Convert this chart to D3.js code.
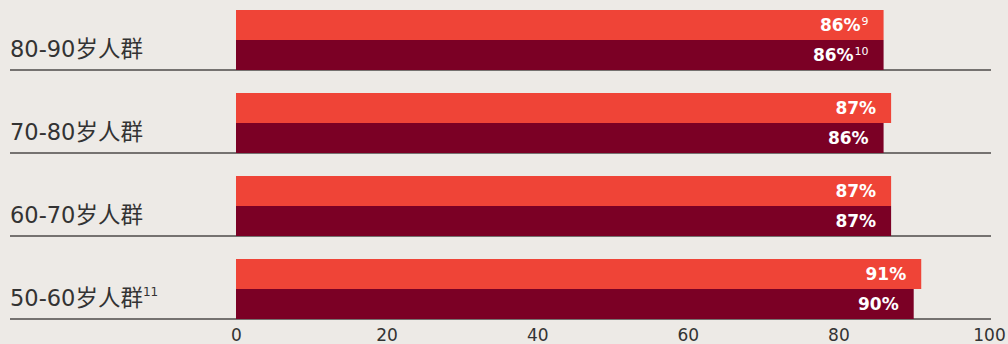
<!DOCTYPE html>
<html>
<head>
<meta charset="utf-8">
<script src="https://cdn.jsdelivr.net/npm/d3@7"></script>
<style>
  html, body { margin: 0; padding: 0; background: #edeae6; }
  svg { display: block; font-family: "DejaVu Sans", "Noto Sans CJK SC", sans-serif; }
</style>
</head>
<body>
<svg></svg>
<script>
// groups top to bottom
const categories = ['80-90岁人群', '70-80岁人群', '60-70岁人群', '50-60岁人群'];
const catNotes = ['', '', '', '11'];
const seriesNames = ['a', 'b'];
const topValues = [86, 87, 87, 91];
const topNotes = ['9', '', '', ''];
const bottomValues = [86, 86, 87, 90];
const bottomNotes = ['10', '', '', ''];
const xTicks = [0, 20, 40, 60, 80, 100];

const width = 1008, height = 344;
const colors = { a: '#ef4437', b: '#7b0025' };

const svg = d3.select('svg')
    .attr('width', width)
    .attr('height', height);

const x = d3.scaleLinear().domain([0, 100]).range([236, 989]);

const y = d3.scaleBand()
    .domain(categories)
    .range([10, 319])
    .paddingInner(23 / 83)
    .paddingOuter(0);

const ySub = d3.scaleBand()
    .domain(seriesNames)
    .range([0, y.bandwidth()]);

const rows = categories.map((c, i) => ({
    cat: c,
    note: catNotes[i],
    bars: [
        { key: 'a', v: topValues[i], note: topNotes[i] },
        { key: 'b', v: bottomValues[i], note: bottomNotes[i] }
    ]
}));

const g = svg.selectAll('g.row').data(rows)
    .enter().append('g')
        .attr('class', 'row')
        .attr('transform', d => `translate(0, ${y(d.cat)})`);

// separator line under each group
g.append('line')
    .attr('x1', 10)
    .attr('x2', 991)
    .attr('y1', y.bandwidth())
    .attr('y2', y.bandwidth())
    .attr('stroke', '#4d4a48')
    .attr('stroke-width', 1.5);

g.selectAll('rect').data(d => d.bars)
    .enter().append('rect')
        .attr('x', x(0))
        .attr('y', d => ySub(d.key))
        .attr('width', d => x(d.v) - x(0))
        .attr('height', ySub.bandwidth())
        .attr('fill', d => colors[d.key]);

const vl = g.selectAll('text.val').data(d => d.bars)
    .enter().append('text')
        .attr('class', 'val')
        .attr('x', d => x(d.v) - 15)
        .attr('y', d => ySub(d.key) + ySub.bandwidth() / 2)
        .attr('dy', '0.36em')
        .attr('text-anchor', 'end')
        .attr('fill', '#fff')
        .attr('font-size', 17)
        .attr('font-weight', 700);
vl.append('tspan').text(d => d.v + '%');
vl.append('tspan')
    .attr('font-size', 11)
    .attr('font-weight', 400)
    .attr('dy', '-0.6em')
    .attr('dx', 1)
    .text(d => d.note);

// category labels
const cl = g.append('text')
    .attr('x', 10)
    .attr('y', 47)
    .attr('fill', '#333')
    .attr('font-size', 22.5);
cl.append('tspan').text(d => d.cat);
cl.append('tspan')
    .attr('font-size', 12)
    .attr('dy', '-0.8em')
    .text(d => d.note);

// x axis
const axis = svg.append('g')
    .attr('transform', 'translate(0, 324)')
    .call(d3.axisBottom(x).tickValues(xTicks).tickSize(0).tickPadding(5));
axis.select('.domain').remove();
axis.selectAll('text')
    .attr('font-size', 17)
    .attr('fill', '#333')
    .attr('font-family', '"DejaVu Sans", sans-serif');
</script>
</body>
</html>
